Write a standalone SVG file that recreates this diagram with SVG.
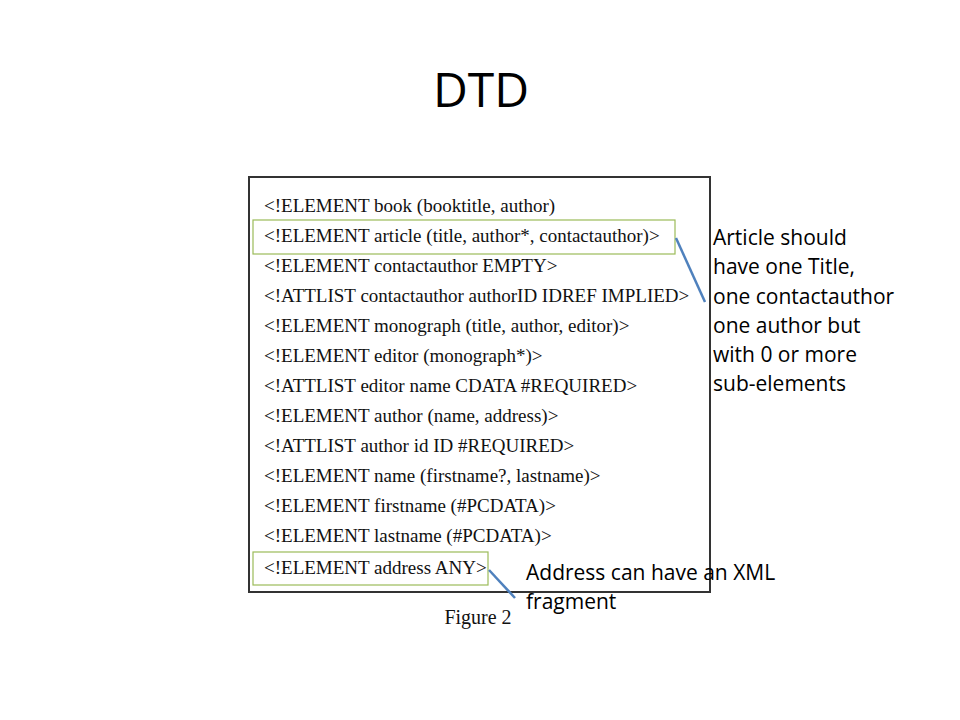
<svg xmlns="http://www.w3.org/2000/svg" width="960" height="720" viewBox="0 0 960 720">
<style>
.code{font-family:"Liberation Serif",serif;font-size:19px;fill:#111}
.note{font-family:"Open Sans","Noto Sans",sans-serif;font-size:21px;fill:#000}
.hl{fill:none;stroke:#9bbb59;stroke-width:1.2}
.conn{stroke:#4f81bd;stroke-width:2.5;fill:none}
</style>
<rect width="960" height="720" fill="#fff"/>
<g id="title"><text x="481" y="107" text-anchor="middle" style="font-family:'Open Sans','Noto Sans',sans-serif;font-size:48px;fill:#000">DTD</text></g>
<g id="figure">
<rect x="249" y="177" width="461" height="415" fill="#fff" stroke="#333" stroke-width="2"/>
<text class="code" x="264" y="212">&lt;!ELEMENT book (booktitle, author)</text>
<text class="code" x="264" y="242">&lt;!ELEMENT article (title, author*, contactauthor)&gt;</text>
<text class="code" x="264" y="272">&lt;!ELEMENT contactauthor EMPTY&gt;</text>
<text class="code" x="264" y="302">&lt;!ATTLIST contactauthor authorID IDREF IMPLIED&gt;</text>
<text class="code" x="264" y="332">&lt;!ELEMENT monograph (title, author, editor)&gt;</text>
<text class="code" x="264" y="362">&lt;!ELEMENT editor (monograph*)&gt;</text>
<text class="code" x="264" y="392">&lt;!ATTLIST editor name CDATA #REQUIRED&gt;</text>
<text class="code" x="264" y="422">&lt;!ELEMENT author (name, address)&gt;</text>
<text class="code" x="264" y="452">&lt;!ATTLIST author id ID #REQUIRED&gt;</text>
<text class="code" x="264" y="482">&lt;!ELEMENT name (firstname?, lastname)&gt;</text>
<text class="code" x="264" y="512">&lt;!ELEMENT firstname (#PCDATA)&gt;</text>
<text class="code" x="264" y="542">&lt;!ELEMENT lastname (#PCDATA)&gt;</text>
<text class="code" x="264" y="574">&lt;!ELEMENT address ANY&gt;</text>
<text x="478" y="624" text-anchor="middle" style="font-family:'Liberation Serif',serif;font-size:20px;fill:#111">Figure 2</text>
</g>
<g id="highlight-article"><rect class="hl" x="253" y="220" width="422" height="34"/></g>
<g id="highlight-address"><rect class="hl" x="253" y="552" width="235" height="33"/></g>
<g id="connectors">
<line class="conn" x1="676" y1="238" x2="705" y2="302"/>
<line class="conn" x1="489" y1="570" x2="515" y2="598"/>
</g>
<g id="note-article">
<text class="note" x="713" y="245">Article should</text>
<text class="note" x="713" y="274">have one Title,</text>
<text class="note" x="713" y="304">one contactauthor</text>
<text class="note" x="713" y="333">one author but</text>
<text class="note" x="713" y="362">with 0 or more</text>
<text class="note" x="713" y="391">sub-elements</text>
</g>
<g id="note-address">
<text class="note" x="526" y="580">Address can have an XML</text>
<text class="note" x="526" y="609">fragment</text>
</g>
</svg>
